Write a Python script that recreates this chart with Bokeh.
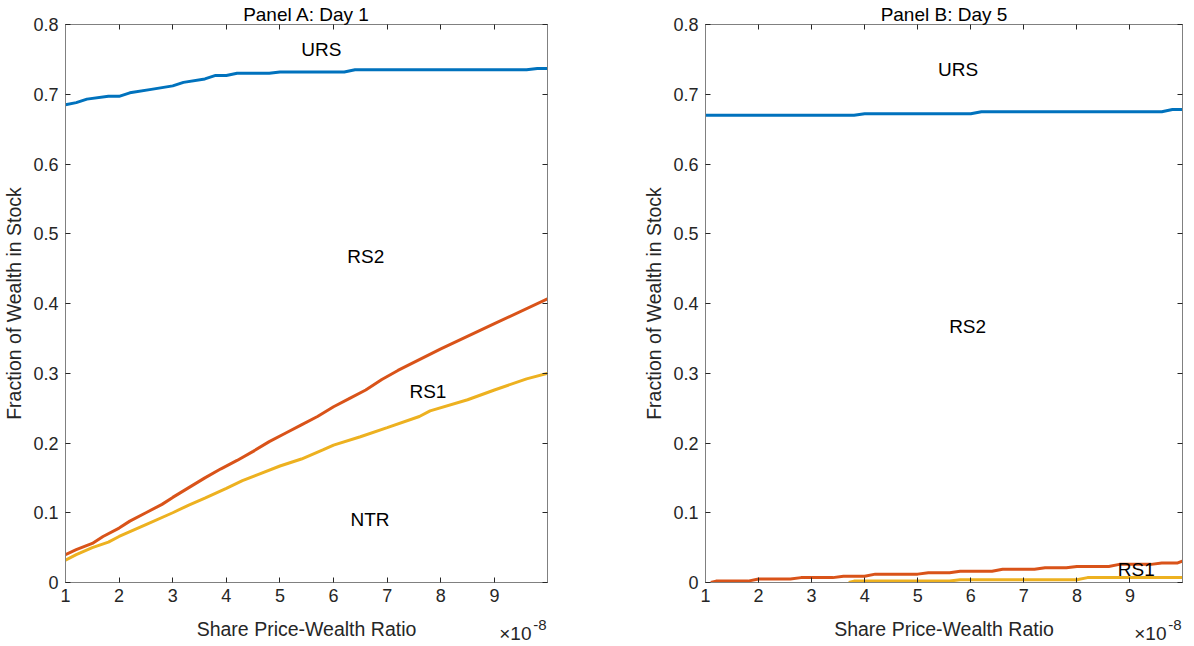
from bokeh.plotting import figure
from bokeh.layouts import row, column
from bokeh.models import (LinearAxis, FixedTicker, Label, CustomJSTickFormatter, Range1d)
from bokeh.embed import file_html
from bokeh.resources import INLINE

# ---------------- data (x in units of 1e-8) ----------------
a_urs_x = [1.0, 1.2, 1.4, 1.8, 2.0, 2.2, 2.6, 3.0, 3.2, 3.6, 3.8, 4.0, 4.2, 4.8, 5.0, 6.2, 6.4, 9.6, 9.8, 10.0]
a_urs_y = [0.685, 0.688, 0.693, 0.697, 0.697, 0.702, 0.707, 0.712, 0.717, 0.722, 0.727, 0.727, 0.730, 0.730,
           0.732, 0.732, 0.735, 0.735, 0.737, 0.737]

a_rs2_x = [1.0, 1.2, 1.5, 1.7, 2.0, 2.2, 2.5, 2.8, 3.0, 3.3, 3.6, 3.9, 4.2, 4.5, 4.8, 5.1, 5.4, 5.7, 6.0,
           6.3, 6.6, 6.9, 7.2, 8.0, 9.0, 10.0]
a_rs2_y = [0.040, 0.047, 0.056, 0.066, 0.078, 0.088, 0.100, 0.112, 0.122, 0.136, 0.150, 0.163, 0.175, 0.188,
           0.202, 0.214, 0.226, 0.238, 0.252, 0.264, 0.276, 0.291, 0.304, 0.335, 0.371, 0.407]

a_rs1_x = [1.0, 1.2, 1.5, 1.8, 2.0, 2.5, 3.0, 3.3, 3.6, 4.0, 4.3, 4.6, 5.0, 5.4, 5.8, 6.0, 6.5, 7.0, 7.6,
           7.8, 8.5, 9.0, 9.6, 10.0]
a_rs1_y = [0.032, 0.040, 0.050, 0.058, 0.066, 0.083, 0.100, 0.111, 0.121, 0.135, 0.146, 0.155, 0.167, 0.177,
           0.190, 0.197, 0.209, 0.222, 0.238, 0.246, 0.262, 0.276, 0.292, 0.300]

b_urs_x = [1.0, 3.8, 4.0, 6.0, 6.2, 9.6, 9.8, 10.0]
b_urs_y = [0.670, 0.670, 0.672, 0.672, 0.675, 0.675, 0.678, 0.678]

b_rs2_x = [1.1, 1.2, 1.8, 2.0, 2.6, 2.8, 3.4, 3.6, 4.0, 4.2, 5.0, 5.2, 5.6, 5.8, 6.4, 6.6, 7.2, 7.4, 7.8,
           8.0, 8.6, 8.8, 9.4, 9.6, 9.9, 10.0]
b_rs2_y = [0.000, 0.002, 0.002, 0.005, 0.005, 0.007, 0.007, 0.009, 0.009, 0.012, 0.012, 0.014, 0.014, 0.016,
           0.016, 0.019, 0.019, 0.021, 0.021, 0.023, 0.023, 0.026, 0.026, 0.028, 0.028, 0.031]

b_rs1_x = [3.7, 3.8, 5.6, 5.8, 8.0, 8.2, 10.0]
b_rs1_y = [0.000, 0.002, 0.002, 0.004, 0.004, 0.007, 0.007]

x_ticks = [1, 2, 3, 4, 5, 6, 7, 8, 9]
y_ticks = [0, 0.1, 0.2, 0.3, 0.4, 0.5, 0.6, 0.7, 0.8]
x_label = "Share Price-Wealth Ratio"
y_label = "Fraction of Wealth in Stock"
exp_base = "×10"
exp_power = "-8"

a_labels = [("URS", 5.77, 0.764), ("RS2", 6.6, 0.467), ("RS1", 7.76, 0.274), ("NTR", 6.68, 0.090)]
b_labels = [("URS", 5.76, 0.735), ("RS2", 5.94, 0.367), ("RS1", 9.12, 0.019)]

BLUE = "#0072BD"
ORANGE = "#D95319"
YELLOW = "#EDB120"
FONT = "Liberation Sans"
AXC = "#262626"
BOX = "#808080"

X0, X1 = 1, 9.99


def make_panel(title, width, bl, br, series, labels):
    p = figure(width=width, height=616, output_backend="svg", toolbar_location=None,
               x_range=Range1d(X0, X1), y_range=Range1d(0, 0.8),
               min_border_left=bl, min_border_right=br, min_border_top=24, min_border_bottom=34,
               y_axis_label=y_label)
    p.title.text = title
    p.title.align = "center"
    p.title.text_font = FONT
    p.title.text_font_size = "19px"
    p.title.text_font_style = "normal"
    p.title.text_color = "#000000"
    p.title.standoff = 0
    p.title.offset = 0
    p.xgrid.visible = False
    p.ygrid.visible = False
    p.outline_line_color = BOX
    p.outline_line_width = 1
    p.outline_line_alpha = 1.0

    for ax in p.xaxis:
        ax.ticker = FixedTicker(ticks=x_ticks)
    for ax in p.yaxis:
        ax.ticker = FixedTicker(ticks=y_ticks)
        ax.formatter = CustomJSTickFormatter(code="return tick.toFixed(1).replace(/\\.0$/, '');")

    def style(ax):
        ax.axis_line_color = BOX
        ax.major_tick_line_color = AXC
        ax.major_tick_in = 5
        ax.major_tick_out = 0
        ax.minor_tick_line_color = None
        ax.major_label_text_font = FONT
        ax.major_label_text_font_size = "18px"
        ax.major_label_text_color = AXC
        ax.axis_label_text_font = FONT
        ax.axis_label_text_font_size = "19.5px"
        ax.axis_label_text_font_style = "normal"
        ax.axis_label_text_color = AXC

    for ax in p.xaxis + p.yaxis:
        style(ax)
    p.xaxis.major_label_standoff = 6
    p.yaxis.major_label_standoff = 7
    p.yaxis.axis_label_standoff = 5

    top = LinearAxis(ticker=FixedTicker(ticks=x_ticks))
    right = LinearAxis(ticker=FixedTicker(ticks=y_ticks))
    for ax in (top, right):
        style(ax)
        ax.formatter = CustomJSTickFormatter(code="return '';")
        ax.major_label_text_font_size = "1px"
        ax.major_label_standoff = 0
    p.add_layout(top, "above")
    p.add_layout(right, "right")

    for xs, ys, c in series:
        p.line(xs, ys, line_color=c, line_width=3)

    for t, x, y in labels:
        p.add_layout(Label(x=x, y=y, text=t, text_font=FONT, text_font_size="19px",
                           text_color="#000000", text_align="center", text_baseline="middle"))

    # footer strip carrying the x-axis title and the exponent
    f = figure(width=width, height=28, output_backend="svg", toolbar_location=None,
               x_range=Range1d(X0, X1), y_range=Range1d(0, 1),
               x_axis_type=None, y_axis_type=None,
               min_border_left=bl, min_border_right=br, min_border_top=0, min_border_bottom=0)
    f.title.visible = False
    f.outline_line_color = None
    f.add_layout(Label(x=(X0 + X1) / 2, y=0.57, text=x_label, text_font=FONT,
                       text_font_size="19.5px", text_color=AXC, text_align="center",
                       text_baseline="middle"))
    f.add_layout(Label(x=X1, y=0.40, text=exp_base, text_font=FONT, text_font_size="19px",
                       text_color=AXC, text_align="right", text_baseline="middle", x_offset=-16))
    f.add_layout(Label(x=X1, y=0.70, text=exp_power, text_font=FONT, text_font_size="15px",
                       text_color=AXC, text_align="right", text_baseline="middle", x_offset=-1))
    return column(p, f, spacing=0)


pA = make_panel("Panel A: Day 1", 640, 64, 93,
                [(a_urs_x, a_urs_y, BLUE), (a_rs2_x, a_rs2_y, ORANGE), (a_rs1_x, a_rs1_y, YELLOW)],
                a_labels)
pB = make_panel("Panel B: Day 5", 552, 58, 10,
                [(b_urs_x, b_urs_y, BLUE), (b_rs2_x, b_rs2_y, ORANGE), (b_rs1_x, b_rs1_y, YELLOW)],
                b_labels)

layout = row(pA, pB, spacing=0)
open("out.html", "w").write(file_html(layout, INLINE))
